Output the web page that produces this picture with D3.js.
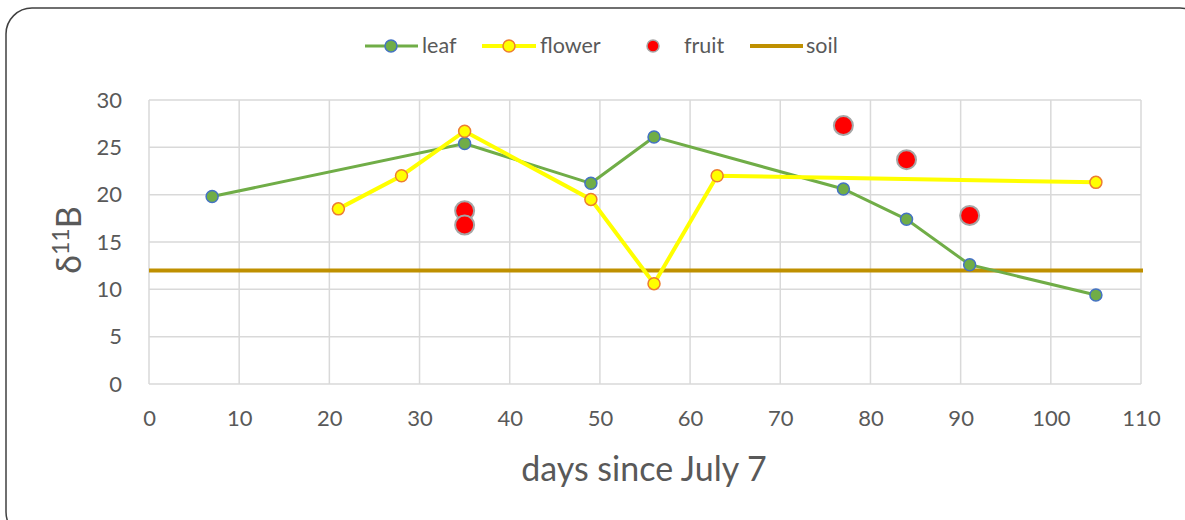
<!DOCTYPE html>
<html>
<head>
<meta charset="utf-8">
<script src="https://cdn.jsdelivr.net/npm/d3@7"></script>
<style>
  body { margin: 0; background: #fff; }
  text { font-family: Lato, "Open Sans", sans-serif; fill: #595959; }
</style>
</head>
<body>
<script>
const leafDays = [7, 35, 49, 56, 77, 84, 91, 105];
const leafVals = [19.8, 25.4, 21.2, 26.1, 20.6, 17.4, 12.6, 9.4];
const flowerDays = [21, 28, 35, 49, 56, 63, 105];
const flowerVals = [18.5, 22.0, 26.7, 19.5, 10.6, 22.0, 21.3];
const fruitDays = [35, 35, 77, 84, 91];
const fruitVals = [18.3, 16.8, 27.3, 23.7, 17.8];
const soilVal = 12.0;
const xTicks = [0, 10, 20, 30, 40, 50, 60, 70, 80, 90, 100, 110];
const yTicks = [0, 5, 10, 15, 20, 25, 30];

const svg = d3.select('body').append('svg')
              .attr('width', 1185)
              .attr('height', 520);

svg.append('rect')
   .attr('x', 6).attr('y', 8).attr('width', 1200).attr('height', 530)
   .attr('rx', 26).attr('ry', 26)
   .style('fill', '#fff').style('stroke', '#404040').style('stroke-width', 1.5);

const x = d3.scaleLinear().domain([0, 110]).range([149, 1141]);
const y = d3.scaleLinear().domain([0, 30]).range([384, 100]);

// grid
svg.append('g').selectAll('line').data(xTicks).join('line')
   .attr('x1', d => x(d)).attr('x2', d => x(d)).attr('y1', y(0)).attr('y2', y(30))
   .style('stroke', '#d9d9d9').style('stroke-width', 1.5);
svg.append('g').selectAll('line').data(yTicks).join('line')
   .attr('x1', x(0)).attr('x2', x(110)).attr('y1', d => y(d)).attr('y2', d => y(d))
   .style('stroke', '#d9d9d9').style('stroke-width', 1.5);

// axes labels
const xAxis = svg.append('g').attr('transform', `translate(0,${y(0)})`)
   .call(d3.axisBottom(x).tickValues(xTicks).tickSize(0).tickPadding(26));
const yAxis = svg.append('g').attr('transform', `translate(${x(0)},0)`)
   .call(d3.axisLeft(y).tickValues(yTicks).tickSize(0).tickPadding(27));
[xAxis, yAxis].forEach(a => {
  a.select('.domain').remove();
  a.selectAll('text').style('font-size', '22px').style('fill', '#595959')
   .style('font-family', 'Lato, sans-serif');
});

svg.append('text').attr('x', 644).attr('y', 481).attr('text-anchor', 'middle')
   .style('font-size', '34px').text('days since July 7');

const yt = svg.append('text').attr('transform', 'translate(81,240) rotate(-90)')
   .attr('text-anchor', 'middle').style('font-size', '34px');
yt.append('tspan').text('δ');
yt.append('tspan').attr('dy', -12).style('font-size', '23px').text('11');
yt.append('tspan').attr('dy', 12).text('B');

// soil
svg.append('line').attr('x1', x(0)).attr('x2', x(110) + 2)
   .attr('y1', y(soilVal)).attr('y2', y(soilVal))
   .style('stroke', '#bf9000').style('stroke-width', 4);

const line = d3.line().x(d => x(d[0])).y(d => y(d[1]));
const leaf = leafDays.map((d, i) => [d, leafVals[i]]);
const flower = flowerDays.map((d, i) => [d, flowerVals[i]]);
const fruit = fruitDays.map((d, i) => [d, fruitVals[i]]);

svg.append('path').datum(leaf).attr('d', line)
   .style('fill', 'none').style('stroke', '#70ad47').style('stroke-width', 3);
svg.append('path').datum(flower).attr('d', line)
   .style('fill', 'none').style('stroke', '#ffff00').style('stroke-width', 4);

svg.append('g').selectAll('circle').data(leaf).join('circle')
   .attr('cx', d => x(d[0])).attr('cy', d => y(d[1])).attr('r', 6)
   .style('fill', '#70ad47').style('stroke', '#4472c4').style('stroke-width', 1.5);
svg.append('g').selectAll('circle').data(flower).join('circle')
   .attr('cx', d => x(d[0])).attr('cy', d => y(d[1])).attr('r', 6)
   .style('fill', '#ffff00').style('stroke', '#ed7d31').style('stroke-width', 1.5);
svg.append('g').selectAll('circle').data(fruit).join('circle')
   .attr('cx', d => x(d[0])).attr('cy', d => y(d[1])).attr('r', 9.5)
   .style('fill', '#ff0000').style('stroke', '#a6a6a6').style('stroke-width', 2);

// legend
const lg = svg.append('g').attr('transform', 'translate(0,46)');
lg.append('line').attr('x1', 365).attr('x2', 418).style('stroke', '#70ad47').style('stroke-width', 3);
lg.append('circle').attr('cx', 391).attr('r', 6).style('fill', '#70ad47').style('stroke', '#4472c4').style('stroke-width', 1.5);
lg.append('text').attr('x', 422).attr('y', 7).style('font-size', '21.5px').text('leaf');
lg.append('line').attr('x1', 482).attr('x2', 536).style('stroke', '#ffff00').style('stroke-width', 4);
lg.append('circle').attr('cx', 509).attr('r', 6).style('fill', '#ffff00').style('stroke', '#ed7d31').style('stroke-width', 1.5);
lg.append('text').attr('x', 540).attr('y', 7).style('font-size', '21.5px').text('flower');
lg.append('circle').attr('cx', 653).attr('r', 6).style('fill', '#ff0000').style('stroke', '#a6a6a6').style('stroke-width', 1.5);
lg.append('text').attr('x', 684).attr('y', 7).style('font-size', '21.5px').text('fruit');
lg.append('line').attr('x1', 750).attr('x2', 803).style('stroke', '#bf9000').style('stroke-width', 4);
lg.append('text').attr('x', 806).attr('y', 7).style('font-size', '21.5px').text('soil');
</script>
</body>
</html>
